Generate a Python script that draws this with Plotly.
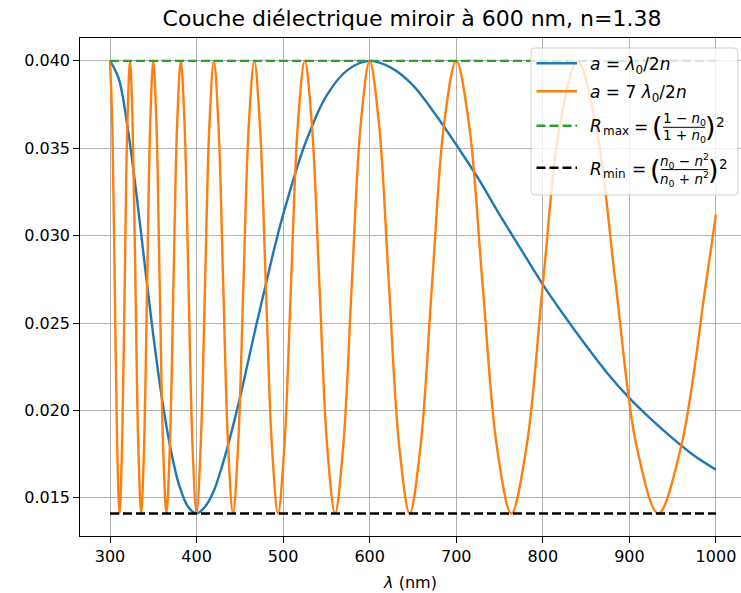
import plotly.graph_objects as go

# ---------------- data ----------------
lam_blue = [300, 310, 320, 330, 340, 350, 360, 370, 380, 390, 400, 410, 420, 430, 440,
            450, 460, 470, 480, 490, 500, 525, 550, 575, 600, 625, 650, 675, 700, 725,
            750, 775, 800, 825, 850, 875, 900, 925, 950, 975, 1000]
R_blue = [0.0400, 0.0390, 0.0363, 0.0326, 0.0284, 0.0243, 0.0207, 0.0178, 0.0157, 0.0145,
          0.0141, 0.0145, 0.0154, 0.0169, 0.0187, 0.0207, 0.0229, 0.0251, 0.0272, 0.0293,
          0.0312, 0.0352, 0.0380, 0.0395, 0.0400, 0.0396, 0.0386, 0.0370, 0.0352, 0.0333,
          0.0312, 0.0292, 0.0272, 0.0254, 0.0237, 0.0221, 0.0207, 0.0195, 0.0184, 0.0174,
          0.0166]

lam_orange = [300.0, 302.7, 305.5, 308.3, 311.1, 314.0, 317.0, 320.0,
              323.1, 326.2, 329.4, 332.7, 336.0, 339.4, 342.9, 346.4,
              350.0, 353.7, 357.4, 361.3, 365.2, 369.2, 373.3, 377.5,
              381.8, 386.2, 390.7, 395.3, 400.0, 404.8, 409.8, 414.8,
              420.0, 425.3, 430.8, 436.4, 442.1, 448.0, 454.1, 460.3,
              466.7, 473.2, 480.0, 487.0, 494.1, 501.5, 509.1, 516.9,
              525.0, 533.3, 541.9, 550.8, 560.0, 569.5, 579.3, 589.5,
              600.0, 610.9, 622.2, 634.0, 646.2, 658.8, 672.0, 685.7,
              700.0, 714.9, 730.4, 746.7, 763.6, 781.4, 800.0, 819.5,
              840.0, 861.5, 884.2, 908.1, 933.3, 960.0, 988.2, 1000.0]
R_orange = [0.0400, 0.0363, 0.0272, 0.0180, 0.0141, 0.0180, 0.0272, 0.0363,
            0.0400, 0.0363, 0.0272, 0.0180, 0.0141, 0.0180, 0.0272, 0.0363,
            0.0400, 0.0363, 0.0272, 0.0180, 0.0141, 0.0180, 0.0272, 0.0363,
            0.0400, 0.0363, 0.0272, 0.0180, 0.0141, 0.0180, 0.0272, 0.0363,
            0.0400, 0.0363, 0.0272, 0.0180, 0.0141, 0.0180, 0.0272, 0.0363,
            0.0400, 0.0363, 0.0272, 0.0180, 0.0141, 0.0180, 0.0272, 0.0363,
            0.0400, 0.0363, 0.0272, 0.0180, 0.0141, 0.0180, 0.0272, 0.0363,
            0.0400, 0.0363, 0.0272, 0.0180, 0.0141, 0.0180, 0.0272, 0.0363,
            0.0400, 0.0363, 0.0272, 0.0180, 0.0141, 0.0180, 0.0272, 0.0363,
            0.0400, 0.0363, 0.0272, 0.0180, 0.0141, 0.0180, 0.0272, 0.0312]

lam_limits = [300, 1000]
R_max = 0.0400
R_min = 0.0141

x_ticks = [300, 400, 500, 600, 700, 800, 900, 1000]
y_ticks = [0.015, 0.020, 0.025, 0.030, 0.035, 0.040]

title_text = "Couche diélectrique miroir à 600 nm, n=1.38"

# ---------------- styling ----------------
FONT = "DejaVu Sans"
W_PX, H_PX = 741, 593
L, T, PW, PH = 80, 38, 661, 498   # plot area in pixels
C_BLUE, C_ORANGE, C_GREEN, C_BLACK = "#1f77b4", "#ff7f0e", "#2ca02c", "#000000"
LW = 2.4
DASH = "9px,4px"


def px(x):
    return (x - L) / PW


def py(y):
    return (T + PH - y) / PH


fig = go.Figure()
fig.add_trace(go.Scatter(x=lam_blue, y=R_blue, mode="lines",
                         line=dict(color=C_BLUE, width=LW, shape="spline"),
                         name="a = λ0/2n", showlegend=False))
fig.add_trace(go.Scatter(x=lam_orange, y=R_orange, mode="lines",
                         line=dict(color=C_ORANGE, width=LW, shape="spline"),
                         name="a = 7 λ0/2n", showlegend=False))
fig.add_trace(go.Scatter(x=lam_limits, y=[R_max, R_max], mode="lines",
                         line=dict(color=C_GREEN, width=LW, dash=DASH),
                         name="Rmax", showlegend=False))
fig.add_trace(go.Scatter(x=lam_limits, y=[R_min, R_min], mode="lines",
                         line=dict(color=C_BLACK, width=LW, dash=DASH),
                         name="Rmin", showlegend=False))

# ---------------- custom legend (box + samples + math-like labels) ----------------
shapes = []
x0, x1, y0, y1, r = 531, 738, 48, 195, 4
path = (f"M {px(x0 + r)},{py(y0)} L {px(x1 - r)},{py(y0)} "
        f"Q {px(x1)},{py(y0)} {px(x1)},{py(y0 + r)} L {px(x1)},{py(y1 - r)} "
        f"Q {px(x1)},{py(y1)} {px(x1 - r)},{py(y1)} L {px(x0 + r)},{py(y1)} "
        f"Q {px(x0)},{py(y1)} {px(x0)},{py(y1 - r)} L {px(x0)},{py(y0 + r)} "
        f"Q {px(x0)},{py(y0)} {px(x0 + r)},{py(y0)} Z")
shapes.append(dict(type="path", path=path, xref="paper", yref="paper", layer="above",
                   fillcolor="rgba(255,255,255,0.8)",
                   line=dict(color="rgba(204,204,204,0.9)", width=1)))

samples = [(63.3, C_BLUE, "solid"), (91.3, C_ORANGE, "solid"),
           (125.7, C_GREEN, DASH), (167.7, C_BLACK, DASH)]
for yy, col, dash in samples:
    shapes.append(dict(type="line", xref="paper", yref="paper", layer="above",
                       x0=px(536.5), x1=px(577), y0=py(yy), y1=py(yy),
                       line=dict(color=col, width=LW, dash=dash)))
# fraction bars
shapes.append(dict(type="line", xref="paper", yref="paper", layer="above",
                   x0=px(663), x1=px(705), y0=py(127.3), y1=py(127.3),
                   line=dict(color="black", width=1)))
shapes.append(dict(type="line", xref="paper", yref="paper", layer="above",
                   x0=px(661), x1=px(708), y0=py(169.6), y1=py(169.6),
                   line=dict(color="black", width=1)))

annotations = []


def txt(s, x, y, size=17, anchor="left"):
    annotations.append(dict(text=s, x=px(x), y=py(y), xref="paper", yref="paper",
                            xanchor=anchor, yanchor="middle", showarrow=False,
                            font=dict(family=FONT, size=size, color="black"),
                            borderpad=0))


FR = 13.5
txt("<i>a</i> = <i>λ</i><sub>0</sub>/2<i>n</i>", 589, 65)
txt("<i>a</i> = 7 <i>λ</i><sub>0</sub>/2<i>n</i>", 589, 93)
# R_max row
txt("<i>R</i>", 589, 126)
txt("max", 601.5, 131, size=12)
txt("=", 633, 126.5)
txt("(", 651, 126.5, size=27)
txt("1 − <i>n</i><sub>0</sub>", 684, 119, size=FR, anchor="center")
txt("1 + <i>n</i><sub>0</sub>", 684, 136, size=FR, anchor="center")
txt(")", 704, 126.5, size=27)
txt("2", 715, 122, size=FR)
# R_min row
txt("<i>R</i>", 589, 168.5)
txt("min", 601.5, 173.5, size=12)
txt("=", 631, 169)
txt("(", 649, 169.5, size=27)
txt("<i>n</i><sub>0</sub> − <i>n</i><sup>2</sup>", 684.5, 161, size=FR, anchor="center")
txt("<i>n</i><sub>0</sub> + <i>n</i><sup>2</sup>", 684.5, 179, size=FR, anchor="center")
txt(")", 707, 169.5, size=27)
txt("2", 718, 164, size=FR)

axis_common = dict(showline=True, linecolor="black", linewidth=1.3,
                   ticks="outside", ticklen=5.6, tickwidth=1.3, tickcolor="black",
                   showgrid=True, gridcolor="#b0b0b0", gridwidth=1.3, zeroline=False,
                   tickfont=dict(family=FONT, size=16, color="black"))

fig.update_layout(
    width=W_PX, height=H_PX,
    margin=dict(l=L, r=W_PX - L - PW, t=T, b=H_PX - T - PH),
    plot_bgcolor="white", paper_bgcolor="white",
    font=dict(family=FONT, size=16, color="black"),
    title=dict(text=title_text, x=px(412), xref="paper", xanchor="center",
               y=1 - 18 / H_PX, yref="container", yanchor="middle",
               font=dict(family=FONT, size=22, color="black")),
    xaxis=dict(range=[265.35, 1028.9], tickvals=x_ticks, mirror=True,
               title=dict(text="<i>λ</i> (nm)", standoff=11,
                          font=dict(family=FONT, size=16, color="black")),
               **axis_common),
    yaxis=dict(range=[0.01281, 0.04131], tickvals=y_ticks, tickformat=".3f",
               mirror=False, **axis_common),
    shapes=shapes, annotations=annotations,
)

fig.write_html("out.html")
